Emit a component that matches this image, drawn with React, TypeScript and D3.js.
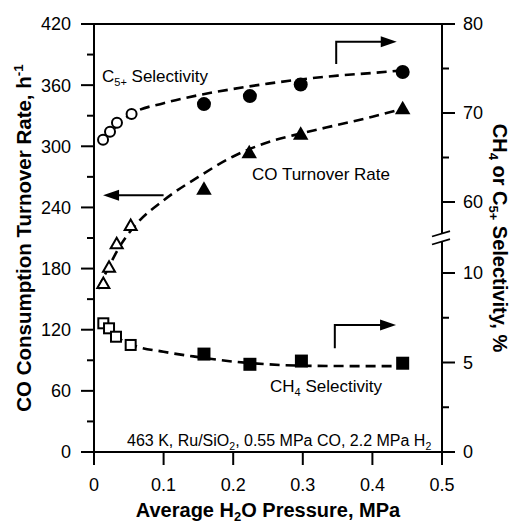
import React from 'react';
import * as d3 from 'd3';

// ---- ticks ----
const xTickValues = [0, 0.1, 0.2, 0.3, 0.4, 0.5];
const xTickLabels = ['0', '0.1', '0.2', '0.3', '0.4', '0.5'];
const leftTickValues = [0, 60, 120, 180, 240, 300, 360, 420];
const leftMinorTicks = [30, 90, 150, 210, 270, 330, 390];
const rightLowerTicks = [0, 5, 10];
const rightLowerMinor = [2.5, 7.5];
const rightUpperTicks = [60, 70, 80];
const rightUpperMinor = [65, 75];

// ---- C5+ selectivity (right axis, %) ----
const c5OpenX = [0.013, 0.023, 0.033, 0.054];
const c5OpenY = [67.0, 67.9, 68.9, 69.9];
const c5FilledX = [0.158, 0.224, 0.297, 0.4435];
const c5FilledY = [71.0, 71.9, 73.2, 74.6];
const c5FitX = [0.013, 0.054, 0.1, 0.15, 0.2, 0.25, 0.3, 0.35, 0.4, 0.445];
const c5FitY = [67.0, 69.9, 71.1, 72.0, 72.7, 73.3, 73.8, 74.2, 74.5, 74.8];

// ---- CO turnover rate (left axis, h-1) ----
const torOpenX = [0.0134, 0.0216, 0.0326, 0.0527];
const torOpenY = [166, 182, 205, 223];
const torFilledX = [0.158, 0.223, 0.297, 0.4435];
const torFilledY = [259, 295, 313, 338];
const torFitX = [0.006, 0.02, 0.04, 0.06, 0.1, 0.15, 0.2, 0.25, 0.3, 0.35, 0.4, 0.445];
const torFitY = [160, 180, 205, 223, 247, 270, 290, 304, 313, 321, 329, 337];

// ---- CH4 selectivity (right axis, %) ----
const ch4OpenX = [0.0134, 0.0216, 0.0316, 0.0527];
const ch4OpenY = [7.19, 6.91, 6.44, 5.98];
const ch4FilledX = [0.158, 0.224, 0.298, 0.4435];
const ch4FilledY = [5.47, 4.9, 5.08, 4.96];
const ch4FitX = [0.013, 0.03, 0.054, 0.1, 0.15, 0.2, 0.25, 0.3, 0.37, 0.445];
const ch4FitY = [7.2, 6.5, 6.0, 5.6, 5.3, 5.05, 4.9, 4.82, 4.8, 4.8];

// ---- annotation arrows (data units) ----
const leftArrowX = [0.1, 0.013];
const leftArrowY = 252;
const c5ArrowX = [0.348, 0.435];
const c5ArrowY = [75.5, 78.0];
const ch4ArrowX = [0.346, 0.434];
const ch4ArrowY = [5.8, 7.1];

const W = 512;
const H = 527;
const L = 94, R = 442, T = 24, B = 452;
const FONT = '"Liberation Sans", Arial, Helvetica, sans-serif';

const x = d3.scaleLinear().domain([0, 0.5]).range([L, R]);
const yL = d3.scaleLinear().domain([0, 420]).range([B, T]);
const yRU = d3.scaleLinear().domain([60, 80]).range([202, T]);
const yRL = d3.scaleLinear().domain([0, 10]).range([B, 273]);
const yR = (v: number) => (v >= 30 ? yRU(v) : yRL(v));
const yBreak = (yRU(60) + yRL(10)) / 2;

const zip = (a: number[], b: number[]) => a.map((v, i) => [v, b[i]] as [number, number]);

function tri(cx: number, cy: number, w: number, h: number) {
  return `M${cx - w / 2},${cy + h / 2}L${cx + w / 2},${cy + h / 2}L${cx},${cy - h / 2}Z`;
}

function arrowHead(tx: number, ty: number, dir: number) {
  const len = 16, hw = 5.5;
  return `M${tx},${ty}L${tx - dir * len},${ty - hw}L${tx - dir * len},${ty + hw}Z`;
}

export default function App() {
  const fitC5 = d3.line<[number, number]>().x(d => x(d[0])).y(d => yR(d[1])).curve(d3.curveMonotoneX)(zip(c5FitX, c5FitY)) || '';
  const fitTor = d3.line<[number, number]>().x(d => x(d[0])).y(d => yL(d[1])).curve(d3.curveMonotoneX)(zip(torFitX, torFitY)) || '';
  const fitCh4 = d3.line<[number, number]>().x(d => x(d[0])).y(d => yR(d[1])).curve(d3.curveMonotoneX)(zip(ch4FitX, ch4FitY)) || '';

  const dash = { fill: 'none', stroke: '#000', strokeWidth: 2.6, strokeDasharray: '10,6' };
  const ax = { stroke: '#000', strokeWidth: 2 };

  return (
    <svg width={W} height={H} style={{ position: 'absolute', left: 0, top: 0, background: '#fff' }} fontFamily={FONT}>
      <rect x={0} y={0} width={W} height={H} fill="#fff" />
      {/* frame */}
      <line x1={L} x2={R} y1={T} y2={T} {...ax} />
      <line x1={L} x2={R} y1={B} y2={B} {...ax} />
      <line x1={L} x2={L} y1={T} y2={B} {...ax} />
      <line x1={R} x2={R} y1={T} y2={yBreak - 4} {...ax} />
      <line x1={R} x2={R} y1={yBreak + 4} y2={B} {...ax} />
      {/* break marks */}
      <line x1={R - 10} x2={R + 8} y1={yBreak - 4 + 3} y2={yBreak - 4 - 2.3} stroke="#000" strokeWidth={1.8} />
      <line x1={R - 10} x2={R + 8} y1={yBreak + 4 + 3} y2={yBreak + 4 - 2.3} stroke="#000" strokeWidth={1.8} />

      {/* x ticks */}
      {xTickValues.map((v, i) => (
        <g key={'xt' + i}>
          <line x1={x(v)} x2={x(v)} y1={B} y2={B + 13} {...ax} />
          <text x={x(v)} y={491} fontSize={18} textAnchor="middle">{xTickLabels[i]}</text>
        </g>
      ))}
      {/* left ticks */}
      {leftTickValues.map(v => (
        <g key={'lt' + v}>
          <line x1={L - 13} x2={L} y1={yL(v)} y2={yL(v)} {...ax} />
          <text x={71} y={yL(v)} dy="0.36em" fontSize={18} textAnchor="end">{v}</text>
        </g>
      ))}
      {leftMinorTicks.map(v => (
        <line key={'lm' + v} x1={L - 7} x2={L} y1={yL(v)} y2={yL(v)} {...ax} />
      ))}
      {/* right ticks */}
      {[...rightLowerTicks, ...rightUpperTicks].map(v => (
        <g key={'rt' + v}>
          <line x1={R} x2={R + 13} y1={yR(v)} y2={yR(v)} {...ax} />
          <text x={463} y={yR(v)} dy="0.36em" fontSize={18} textAnchor="start">{v}</text>
        </g>
      ))}
      {[...rightLowerMinor, ...rightUpperMinor].map(v => (
        <line key={'rm' + v} x1={R} x2={R + 7} y1={yR(v)} y2={yR(v)} {...ax} />
      ))}

      {/* fits */}
      <path d={fitC5} {...dash} />
      <path d={fitTor} {...dash} />
      <path d={fitCh4} {...dash} />

      {/* C5+ markers */}
      {c5OpenX.map((v, i) => (
        <circle key={'co' + i} cx={x(v)} cy={yR(c5OpenY[i])} r={5} fill="#fff" stroke="#000" strokeWidth={2} />
      ))}
      {c5FilledX.map((v, i) => (
        <circle key={'cf' + i} cx={x(v)} cy={yR(c5FilledY[i])} r={7} fill="#000" />
      ))}
      {/* turnover markers */}
      {torOpenX.map((v, i) => (
        <path key={'to' + i} d={tri(x(v), yL(torOpenY[i]), 12, 10.5)} fill="#fff" stroke="#000" strokeWidth={2} strokeLinejoin="miter" />
      ))}
      {torFilledX.map((v, i) => (
        <path key={'tf' + i} d={tri(x(v), yL(torFilledY[i]), 15.5, 13.5)} fill="#000" />
      ))}
      {/* CH4 markers */}
      {ch4OpenX.map((v, i) => (
        <rect key={'so' + i} x={x(v) - 5} y={yR(ch4OpenY[i]) - 5} width={10} height={10} fill="#fff" stroke="#000" strokeWidth={2} />
      ))}
      {ch4FilledX.map((v, i) => (
        <rect key={'sf' + i} x={x(v) - 6.5} y={yR(ch4FilledY[i]) - 6.5} width={13} height={13} fill="#000" />
      ))}

      {/* arrows */}
      <line x1={x(leftArrowX[0])} x2={x(leftArrowX[1]) + 10} y1={yL(leftArrowY)} y2={yL(leftArrowY)} stroke="#000" strokeWidth={2} />
      <path d={arrowHead(x(leftArrowX[1]), yL(leftArrowY), -1)} fill="#000" />
      <path d={`M${x(c5ArrowX[0])},${yR(c5ArrowY[0])}V${yR(c5ArrowY[1])}H${x(c5ArrowX[1]) - 10}`} fill="none" stroke="#000" strokeWidth={2} />
      <path d={arrowHead(x(c5ArrowX[1]), yR(c5ArrowY[1]), 1)} fill="#000" />
      <path d={`M${x(ch4ArrowX[0])},${yR(ch4ArrowY[0])}V${yR(ch4ArrowY[1])}H${x(ch4ArrowX[1]) - 10}`} fill="none" stroke="#000" strokeWidth={2} />
      <path d={arrowHead(x(ch4ArrowX[1]), yR(ch4ArrowY[1]), 1)} fill="#000" />

      {/* in-plot labels */}
      <text x={102} y={82} fontSize={17}>
        C<tspan fontSize={11} dy={4}>5+</tspan><tspan dy={-4}> Selectivity</tspan>
      </text>
      <text x={252} y={180} fontSize={17}>CO Turnover Rate</text>
      <text x={270} y={392} fontSize={17}>
        CH<tspan fontSize={11} dy={4}>4</tspan><tspan dy={-4}> Selectivity</tspan>
      </text>
      <text x={127} y={446} fontSize={16}>
        463 K, Ru/SiO<tspan fontSize={10.5} dy={4}>2</tspan><tspan dy={-4}>, 0.55 MPa CO, 2.2 MPa H</tspan><tspan fontSize={10.5} dy={4}>2</tspan>
      </text>

      {/* axis titles */}
      <text x={(L + R) / 2} y={517} fontSize={20} fontWeight="bold" textAnchor="middle">
        Average H<tspan fontSize={13} dy={4}>2</tspan><tspan dy={-4}>O Pressure, MPa</tspan>
      </text>
      <text transform={`translate(31,${(T + B) / 2}) rotate(-90)`} fontSize={20.5} fontWeight="bold" textAnchor="middle">
        CO Consumption Turnover Rate, h<tspan fontSize={13.5} dy={-8}>-1</tspan>
      </text>
      <text transform={`translate(493,${(T + B) / 2}) rotate(90)`} fontSize={20} fontWeight="bold" textAnchor="middle">
        CH<tspan fontSize={13} dy={4}>4</tspan><tspan dy={-4}> or C</tspan><tspan fontSize={13} dy={4}>5+</tspan><tspan dy={-4}> Selectivity, %</tspan>
      </text>
    </svg>
  );
}
